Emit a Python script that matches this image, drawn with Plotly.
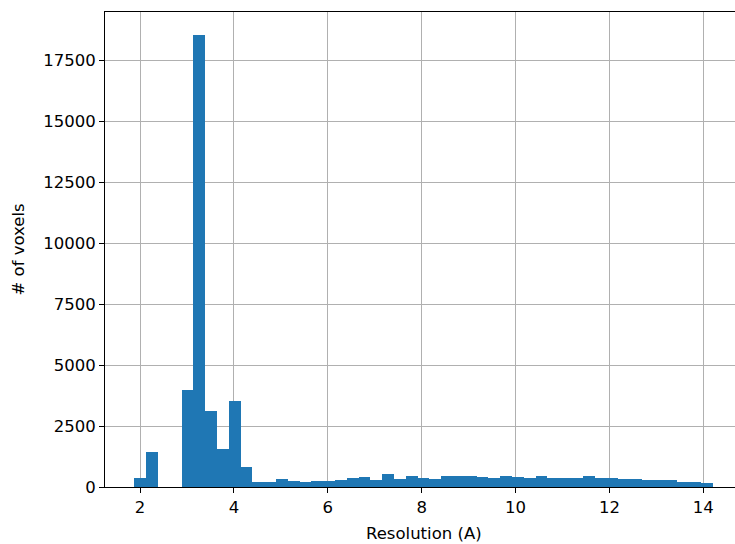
import numpy as np
import plotly.graph_objects as go

# Histogram of local resolution (49 equal bins)
bin_start = 1.879
bin_width = 0.2514
counts = [380, 1425, 0, 0, 3970, 18550, 3105, 1575, 3544, 833,
          220, 220, 320, 265, 215, 265, 230, 270, 380, 430,
          270, 520, 320, 470, 380, 320, 470, 440, 470, 410,
          385, 435, 425, 385, 435, 385, 385, 385, 435, 385,
          380, 330, 330, 275, 275, 275, 220, 220, 165]

x_ticks = [2, 4, 6, 8, 10, 12, 14]
y_ticks = [0, 2500, 5000, 7500, 10000, 12500, 15000, 17500]

centers = bin_start + bin_width * (np.arange(len(counts)) + 0.5)

FONT = "DejaVu Sans"
FS = 16.5
fig = go.Figure(go.Bar(
    x=centers, y=counts, width=bin_width,
    marker=dict(color="#1f77b4", line=dict(width=0)),
    hoverinfo="x+y",
))

# The original figure is cropped on the right: the axes extend slightly past the window.
fig.update_layout(
    width=743, height=544,
    margin=dict(l=105, r=0, t=12, b=57, autoexpand=False),
    paper_bgcolor="white", plot_bgcolor="white",
    bargap=0, showlegend=False,
    font=dict(family=FONT, size=FS, color="black"),
    annotations=[
        dict(text="Resolution (A)", xref="paper", yref="paper", x=0.5, y=0,
             xanchor="center", yanchor="middle", yshift=-46,
             showarrow=False, font=dict(family=FONT, size=FS, color="black")),
        dict(text="# of voxels", xref="paper", yref="paper", x=0, y=0.5,
             xanchor="center", yanchor="middle", xshift=-87, textangle=-90,
             showarrow=False, font=dict(family=FONT, size=FS, color="black")),
    ],
)
fig.update_xaxes(
    range=[1.254, 14.845], tickvals=x_ticks, ticktext=[str(v) for v in x_ticks],
    showgrid=True, gridcolor="#b0b0b0", gridwidth=1, zeroline=False,
    showline=True, linecolor="black", linewidth=1, mirror=True,
    ticks="outside", ticklen=5, tickcolor="black", tickwidth=1,
    layer="above traces", automargin=False,
)
fig.update_yaxes(
    range=[0, 19478], tickvals=y_ticks, ticktext=[str(v) for v in y_ticks],
    showgrid=True, gridcolor="#b0b0b0", gridwidth=1, zeroline=False,
    showline=True, linecolor="black", linewidth=1, mirror=True,
    ticks="outside", ticklen=5, tickcolor="black", tickwidth=1,
    layer="above traces", automargin=False,
)

fig.write_html(
    "out.html",
    config={"displayModeBar": False},
    post_script="document.body.style.margin='0';document.body.style.overflow='hidden';",
)
